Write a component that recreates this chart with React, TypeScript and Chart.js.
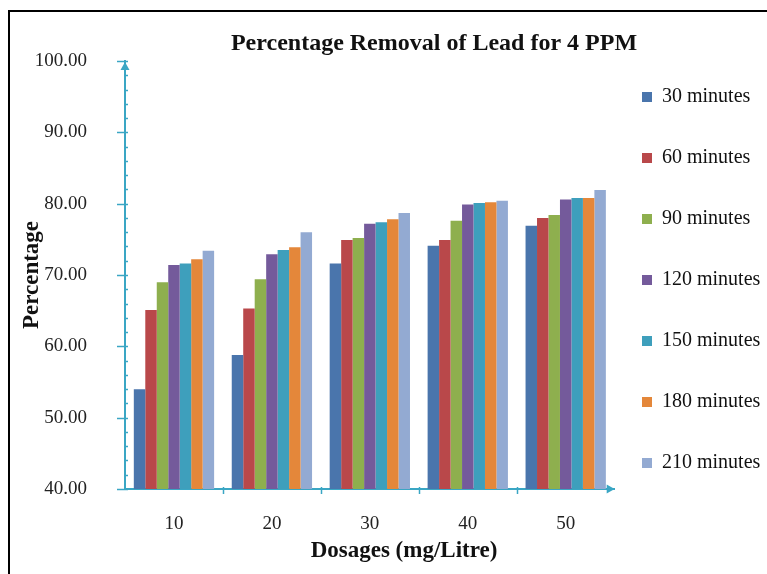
import React, { useEffect, useRef } from 'react';
import { Chart, registerables } from 'chart.js';

Chart.register(...registerables);

const categories = ['10', '20', '30', '40', '50'];
const seriesLabels = ['30 minutes', '60 minutes', '90 minutes', '120 minutes', '150 minutes', '180 minutes', '210 minutes'];
const min30 = [54.0, 58.8, 71.6, 74.1, 76.9];
const min60 = [65.1, 65.3, 74.9, 74.9, 78.0];
const min90 = [69.0, 69.4, 75.2, 77.6, 78.4];
const min120 = [71.4, 72.9, 77.2, 79.9, 80.6];
const min150 = [71.6, 73.5, 77.4, 80.1, 80.8];
const min180 = [72.2, 73.9, 77.8, 80.2, 80.8];
const min210 = [73.4, 76.0, 78.7, 80.4, 81.9];
const seriesColors = ['#4A75AC', '#B9484A', '#8EAF4E', '#745A9B', '#3E9FBC', '#E4873A', '#93AAD2'];

const chartTitle = 'Percentage Removal of Lead for 4 PPM';
const xTitle = 'Dosages (mg/Litre)';
const yTitle = 'Percentage';

const FONT = '"Liberation Serif", "Times New Roman", serif';
const AXIS = '#3AA6C4';
const TEXT = '#111111';

const axisDecor = {
  id: 'axisDecor',
  afterLayout(chart: any) {
    const t = chart.titleBlock;
    if (t) {
      const c = (t.left + t.right) / 2;
      const d = 434 - c;
      t.left += d;
      t.right += d;
    }
    const lg = chart.legend;
    if (lg) {
      const dx = 601 - lg.left;
      lg.left += dx;
      lg.right += dx;
      const dy = 46 - lg.top;
      lg.top += dy;
      lg.bottom += dy;
    }
  },
  afterDraw(chart: any) {
    const { ctx, chartArea, scales } = chart;
    const y = scales.y;
    const x = scales.x;
    const ax = chartArea.left;
    const ay = chartArea.bottom;
    ctx.save();
    ctx.strokeStyle = AXIS;
    ctx.fillStyle = AXIS;
    ctx.lineWidth = 1.5;
    for (let v = 40; v <= 100; v += 2) {
      const py = Math.round(y.getPixelForValue(v)) + 0.5;
      ctx.beginPath();
      if (v % 10 === 0) {
        ctx.moveTo(ax - 8, py);
        ctx.lineTo(ax + 3, py);
      } else {
        ctx.moveTo(ax, py);
        ctx.lineTo(ax + 3, py);
      }
      ctx.stroke();
    }
    for (let i = 1; i < categories.length; i++) {
      const px = Math.round(x.getPixelForValue(i - 0.5)) + 0.5;
      ctx.beginPath();
      ctx.moveTo(px, ay - 2);
      ctx.lineTo(px, ay + 5);
      ctx.stroke();
    }
    // arrow heads
    const top = chartArea.top;
    ctx.beginPath();
    ctx.moveTo(ax, top + 1);
    ctx.lineTo(ax - 4.5, top + 9);
    ctx.lineTo(ax + 4.5, top + 9);
    ctx.closePath();
    ctx.fill();
    const right = chartArea.right;
    ctx.beginPath();
    ctx.moveTo(right, ay);
    ctx.lineTo(right - 8, ay - 4.5);
    ctx.lineTo(right - 8, ay + 4.5);
    ctx.closePath();
    ctx.fill();
    // x axis title
    ctx.fillStyle = TEXT;
    ctx.font = `bold 23px ${FONT}`;
    ctx.textAlign = 'center';
    ctx.textBaseline = 'middle';
    ctx.fillText(xTitle, 404, 551);
    ctx.restore();
  },
};

export default function App() {
  const canvasRef = useRef<HTMLCanvasElement | null>(null);

  useEffect(() => {
    if (!canvasRef.current) return;
    const seriesValues = [min30, min60, min90, min120, min150, min180, min210];
    const chart = new Chart(canvasRef.current, {
      type: 'bar',
      data: {
        labels: categories,
        datasets: seriesLabels.map((label, i) => ({
          label,
          data: seriesValues[i],
          backgroundColor: seriesColors[i],
          borderWidth: 0,
          categoryPercentage: 0.82,
          barPercentage: 1.0,
        })),
      },
      options: {
        responsive: false,
        animation: false,
        layout: { padding: { top: 10, left: 9, right: -17, bottom: 35 } },
        plugins: {
          title: {
            display: true,
            text: chartTitle,
            color: TEXT,
            font: { family: FONT, size: 24, weight: 'bold' },
            padding: { top: 19, bottom: 3.2 },
          },
          legend: {
            position: 'right',
            align: 'start',
            labels: {
              boxWidth: 10,
              boxHeight: 10,
              padding: 41,
              color: TEXT,
              font: { family: FONT, size: 20 },
            },
          },
          tooltip: { enabled: false },
        },
        scales: {
          x: {
            grid: { display: false, drawTicks: false },
            border: { display: true, color: AXIS, width: 2 },
            ticks: { padding: 23.6, color: '#222', font: { family: FONT, size: 19 } },
            afterFit: (s: any) => {
              s.height = 50;
            },
          },
          y: {
            min: 40,
            max: 100,
            grid: { display: false, drawTicks: false },
            border: { display: true, color: AXIS, width: 2 },
            ticks: {
              stepSize: 10,
              padding: 38,
              color: '#222',
              font: { family: FONT, size: 19 },
              callback: (v: any) => Number(v).toFixed(2),
            },
            title: {
              display: true,
              text: yTitle,
              color: TEXT,
              font: { family: FONT, size: 23, weight: 'bold' },
              padding: { top: 9, bottom: 0 },
            },
            afterFit: (s: any) => {
              s.width = 116;
            },
          },
        },
      } as any,
      plugins: [axisDecor],
    });
    return () => chart.destroy();
  }, []);

  return (
    <div style={{ position: 'absolute', left: 0, top: 0, width: 767, height: 574, overflow: 'hidden', background: '#fff' }}>
      <canvas ref={canvasRef} width={767} height={574} style={{ display: 'block', position: 'absolute', left: 0, top: 0 }} />
      <div
        style={{
          position: 'absolute',
          left: 8,
          top: 10,
          width: 800,
          height: 600,
          borderLeft: '2px solid #000',
          borderTop: '2px solid #000',
          pointerEvents: 'none',
        }}
      />
    </div>
  );
}
